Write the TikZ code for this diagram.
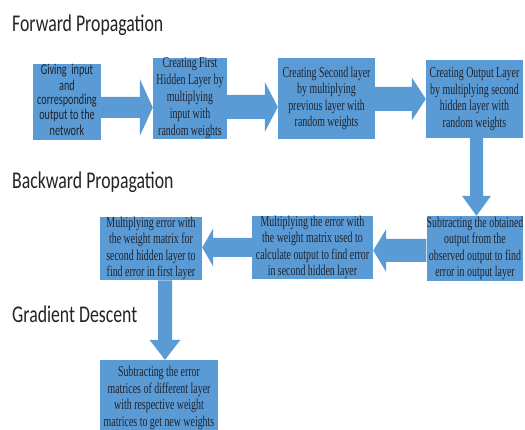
\documentclass[tikz,border=0pt]{standalone}
\usepackage{fontspec}
\usetikzlibrary{calc}
\newfontfamily\tnrfnt[FakeStretch=0.66]{Liberation Serif}
\newfontfamily\calfnt[FakeStretch=0.68]{Carlito}
\newfontfamily\ttlfnt[FakeStretch=0.74]{Carlito}
\definecolor{boxblue}{RGB}{91,155,213}
\definecolor{boxtext}{RGB}{30,35,45}
\definecolor{ttltext}{RGB}{35,35,35}
\tikzset{
  box/.style={fill=boxblue, draw=none, inner sep=0pt, align=center, text=boxtext,
    font=\tnrfnt\fontsize{15}{16.5}\selectfont},
  calbox/.style={box, font=\calfnt\fontsize{15}{17}\selectfont},
  ttl/.style={anchor=base west, inner sep=0pt, text=ttltext, font=\ttlfnt\fontsize{24}{28}\selectfont},
  arrfill/.style={fill=boxblue, draw=none}
}
% horizontal block arrow: start, end, shaft half width, head half width, head length
\newcommand\harrow[5]{\fill[arrfill] let \p1=(#1), \p2=(#2), \n1={sign(\x2-\x1)} in
  (\x1,\y1+#3) -- (\x2-\n1*#5,\y1+#3) -- (\x2-\n1*#5,\y1+#4) -- (\x2,\y1)
  -- (\x2-\n1*#5,\y1-#4) -- (\x2-\n1*#5,\y1-#3) -- (\x1,\y1-#3) -- cycle;}
% vertical block arrow
\newcommand\varrow[5]{\fill[arrfill] let \p1=(#1), \p2=(#2), \n1={sign(\y2-\y1)} in
  (\x1+#3,\y1) -- (\x1+#3,\y2-\n1*#5) -- (\x1+#4,\y2-\n1*#5) -- (\x1,\y2)
  -- (\x1-#4,\y2-\n1*#5) -- (\x1-#3,\y2-\n1*#5) -- (\x1-#3,\y1) -- cycle;}
\begin{document}
\begin{tikzpicture}[x=1pt,y=1pt]
\useasboundingbox (0,0) rectangle (525,429);
\clip (0,0) rectangle (525,429);
\node[ttl] (t1) at (12,397) {Forward Propagation};
\node[ttl] (t2) at (12,240) {Backward Propagation};
\node[ttl] (t3) at (12,107) {Gradient Descent};
\node[calbox, minimum width=68pt, minimum height=76pt] (b1) at (67,327)
  {\raisebox{4pt}{\shortstack[c]{Giving~ input\\and\\corresponding\\output to the\\network}}};
\node[box, minimum width=74pt, minimum height=81pt, font=\tnrfnt\fontsize{15}{17}\selectfont] (b2) at (190,330.5)
  {Creating First\\Hidden Layer by\\multiplying\\input with\\random weights};
\node[box, minimum width=97pt, minimum height=81pt] (b3) at (326.5,330.5)
  {Creating Second layer\\by multiplying\\previous layer with\\random weights};
\node[box, minimum width=97pt, minimum height=78pt] (b4) at (474.5,330)
  {Creating Output Layer\\by multiplying second\\hidden layer with\\random weights};
\node[box, minimum width=96pt, minimum height=65pt] (b5) at (475,180.5)
  {Subtracting the obtained\\output from the\\observed output to find\\error in output layer};
\node[box, minimum width=121pt, minimum height=63pt] (b6) at (312.5,181.5)
  {Multiplying the error with\\the weight matrix used to\\calculate output to find error\\in second hidden layer};
\node[box, minimum width=102pt, minimum height=63pt] (b7) at (151,180.5)
  {Multiplying error with\\the weight matrix for\\second hidden layer to\\find error in first layer};
\node[box, minimum width=118pt, minimum height=76pt] (b8) at (159,31)
  {Subtracting the error\\matrices of different layer\\with respective weight\\matrices to get new weights};
\harrow{[yshift=-5.5pt]b1.east}{b2.west}{10.5pt}{28.5pt}{13pt}
\harrow{[yshift=-8.5pt]b2.east}{b3.west}{12pt}{25pt}{13pt}
\harrow{[yshift=-0.5pt]b3.east}{b4.west}{12pt}{21.5pt}{14pt}
\varrow{[xshift=2pt]b4.south}{b5.north}{6.5pt}{14.5pt}{20pt}
\harrow{[yshift=-2pt]b5.west}{b6.east}{11.5pt}{21.5pt}{13pt}
\harrow{b6.west}{b7.east}{9.5pt}{19pt}{11pt}
\varrow{[xshift=14pt]b7.south}{b8.north}{7pt}{15.5pt}{20pt}
\end{tikzpicture}
\end{document}
